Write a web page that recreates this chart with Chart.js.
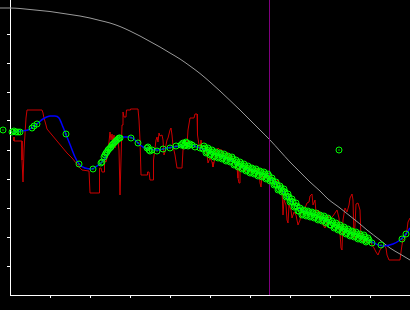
<!DOCTYPE html>
<html>
<head>
<meta charset="utf-8">
<script src="https://cdn.jsdelivr.net/npm/chart.js@4/dist/chart.umd.min.js"></script>
<style>
  html, body { margin: 0; padding: 0; background: #000; }
  #wrap { width: 410px; height: 310px; }
</style>
</head>
<body>
<div id="wrap"><canvas id="c"></canvas></div>
<script>
/* tick positions (no labels in the original) */
const X_TICKS = [50, 90, 130, 170, 210, 250, 290, 330, 370];
const Y_TICKS = [34, 63, 92, 121, 150, 179, 208, 237, 266];

/* vertical marker */
const MARKER_X = 269.5;

/* reference curve (grey) */
const GRAY = [[0,8],[10,8],[20,8.5],[30,9.5],[40,10.5],[50,11.5],[60,13],[70,14.5],[80,16],[90,18],
  [100,20.5],[110,23],[120,26.5],[130,31],[140,36],[150,41.5],[160,47],[170,53],[180,59],[190,66],
  [200,73.5],[210,82],[220,91],[229,99.5],[240,110],[250,120],[260,130],[270,140],[280,151],[290,162],
  [300,172],[310,182],[320,191],[328,199],[340,208],[350,216],[360,224],[367,230],[380,240],[390,248],
  [400,254],[410,260]];

/* raw signal (red) */
const RED = [[14,137],[14,141],[22,141],[22,160],[23,182],[24,150],[26,118],[27,110],[42,110],[43,113],
  [44,118],[46,125],[47,129],[52,135],[57,141],[62,147],[67,153],[72,158],[77,164],[80,168],[82,170],
  [89,171],[90,193],[99,193],[99.5,168],[101,168],[102,172],[104,172],[104.5,160],[106,162],[107,158],
  [108,148],[109,142],[110,132],[111,140],[112,134],[113,142],[114,135],[115,148],[116,138],[117,136],
  [118,140],[119,150],[120,195],[121,160],[122,125],[123,112],[124,117],[126,117],[126.5,110],[130,110],
  [130.5,109],[138,109],[139,120],[140,140],[141,175],[147,175],[147.5,172],[149,172],[150,180],[153,180],
  [153.5,160],[155,148],[156,140],[157,137],[158,142],[159,133],[160,136],[162,135],[163,140],[164,155],
  [165,152],[166,145],[167,140],[168,138],[170,130],[171,128],[172,135],[173,146],[175,155],[177,168],
  [182,168],[183,150],[184,145],[187,145],[188,130],[189,124],[190,118],[194,118],[195,114],[197,114],
  [197.5,135],[199,145],[200,150],[201,140],[202,148],[204,152],[205,148],[207,155],[208,163],[210,158],
  [212,162],[213,167],[215,158],[216,152],[218,148],[220,150],[222,150],[223,158],[225,155],[227,152],
  [229,158],[231,155],[233,160],[235,162],[237,168],[238,178],[239,183],[240,170],[241,165],[243,168],
  [245,172],[247,165],[249,168],[251,172],[253,170],[255,172],[257,168],[259,170],[260,183],[261,187],
  [262,176],[264,180],[266,175],[268,178],[270,175],[272,180],[274,178],[276,182],[278,180],[280,185],
  [282,190],[283,215],[284,200],[286,205],[287,220],[288,223],[289,205],[291,210],[292,218],[294,212],
  [296,215],[298,225],[300,220],[301,212],[303,210],[305,208],[307,203],[309,202],[310,196],[312,194],
  [313,205],[315,200],[316,213],[318,210],[320,212],[321,220],[323,225],[325,228],[327,222],[329,215],
  [331,218],[333,216],[335,213],[337,210],[339,218],[341,248],[342,250],[343,220],[345,208],[347,212],
  [349,205],[350,198],[352,194],[353,200],[354,238],[355,225],[356,204],[358,203],[360,210],[361,238],
  [363,242],[365,240],[367,243],[368,238],[370,240],[372,245],[374,248],[376,252],[378,255],[380,250],
  [382,247],[384,245],[386,248],[387,255],[389,260],[400,260],[401,252],[402,245],[403,240],[405,238],
  [407,230],[408,222],[410,218]];

/* smoothed fit (blue) */
const BLUE = [[13,132],[20,131],[28,130],[33,127],[38,123],[43,119],[50,116],[55,116],[59,118],[63,127],
  [67,137],[71,147],[75,157],[79,164],[85,168],[92,169],[97,166],[102,162],[107,155],[112,146],[116,140],
  [120,137],[125,137],[130,137],[134,139],[138,143],[143,147],[150,149],[158,150],[167,148],[180,146],
  [190,145],[200,148],[210,152],[220,156],[230,160],[245,168],[260,173],[270,178],[280,188],[290,200],
  [300,209],[315,215],[330,222],[345,230],[360,236],[372,242],[383,246],[393,244],[400,240],[406,234],
  [410,228]];

/* samples (green) */
const GREEN = [[3,130],[12,132],[14,131],[16,132],[18,132],[20,132],[32,128],[34,126],[37,124],[66,134],
  [79,164],[93,169],[101,163],[102,162],[105,155],[107,152],[108,150],[110,148],[111,147],[113,144],
  [115,142],[116,141],[118,139],[120,138],[131,138],[138,143],[147,148],[149,150],[152,150],[157,151],
  [163,149],[170,148],[176,146],[181,145],[183,143],[185,145],[187,143],[189,145],[192,145],[195,147],
  [200,148],[203,149],[205,148],[207,152],[209,150],[211,154],[213,152],[215,156],[217,153],[219,157],
  [221,154],[223,158],[225,156],[227,160],[229,157],[231,161],[233,159],[235,164],[237,162],[239,166],
  [241,164],[243,168],[245,166],[247,170],[249,168],[251,172],[253,169],[255,173],[257,171],[259,175],
  [261,172],[263,176],[265,174],[267,178],[269,176],[271,180],[273,181],[275,184],[277,185],[279,189],
  [281,188],[283,191],[285,192],[287,196],[289,197],[291,201],[293,202],[295,206],[297,206],[299,211],
  [301,210],[303,214],[305,211],[307,215],[309,212],[311,216],[313,213],[315,217],[317,215],[319,219],
  [321,216],[323,220],[325,218],[327,222],[329,220],[331,225],[333,223],[335,227],[337,225],[339,229],
  [339,150],[341,227],[343,231],[345,229],[347,233],[349,231],[351,235],[353,232],[355,236],[357,234],
  [359,238],[361,236],[363,239],[365,237],[367,241],[369,240],[372,243],[381,245],[402,239],[406,234]];

/* more samples where they crowd together */
const GREEN_DENSE = [[104,157],[106,153],[109,149],[112,145],[114,143],[117,140],[119,138],[148,147],
  [150,151],[182,144],[184,146],[186,142],[188,146],[190,144],
  [204,146],[206,153],[208,148],[210,155],[212,150],[214,157],[216,152],[218,158],[220,153],[222,159],
  [224,154],[226,161],[228,156],[230,162],[232,157],[234,165],[236,160],[238,167],[240,162],[242,169],
  [244,164],[246,171],[248,166],[250,173],[252,168],[254,174],[256,169],[258,176],[260,171],[262,177],
  [264,172],[266,179],[268,174],[270,181],[272,178],[274,185],[276,182],[278,190],[280,186],[282,192],
  [284,189],[286,197],[288,194],[290,202],[292,199],[294,207],[296,203],[298,211],[300,208],[302,215],
  [304,210],[306,216],[308,211],[310,217],[312,212],[314,218],[316,213],[318,220],[320,215],[322,221],
  [324,216],[326,223],[328,218],[330,225],[332,221],[334,228],[336,223],[338,230],[340,225],[342,232],
  [344,227],[346,234],[348,229],[350,236],[352,231],[354,237],[356,232],[358,239],[360,234],[362,240],
  [364,235],[366,242],[368,238]];

(function () {
  const toXY = (arr) => arr.map((p) => ({ x: p[0], y: p[1] }));
  const samples = toXY(GREEN.concat(GREEN_DENSE));

  // let the marks spill left of the y axis like in the original
  const widenArea = {
    id: "widenArea",
    beforeDatasetsDraw(chart) {
      chart.$left = chart.chartArea.left;
      chart.chartArea.left = 0;
    },
    afterDatasetsDraw(chart) {
      chart.chartArea.left = chart.$left;
    },
  };

  function axis(ticks, extra) {
    return Object.assign({
      type: "linear",
      afterBuildTicks: (s) => { s.ticks = ticks.map((v) => ({ value: v })); },
      ticks: { display: false },
      grid: { drawOnChartArea: false, drawTicks: true, tickLength: 3, color: "#ffffff", lineWidth: 1 },
      border: { display: true, color: "#ffffff", width: 1 },
    }, extra);
  }

  const ctx = document.getElementById("c").getContext("2d");
  new Chart(ctx, {
    type: "scatter",
    data: {
      datasets: [
        { data: samples, showLine: false, pointRadius: 3, pointBorderWidth: 1,
          pointBorderColor: "#00ff00", pointBackgroundColor: "rgba(0,0,0,0)", order: 0, clip: false },
        { data: samples, showLine: false, pointRadius: 0.7, pointBorderWidth: 0,
          pointBackgroundColor: "#00ff00", order: 1, clip: false },
        { data: toXY(BLUE), showLine: true, borderColor: "#0000ff", borderWidth: 1.5, pointRadius: 0,
          cubicInterpolationMode: "monotone", order: 2, clip: false },
        { data: [{ x: MARKER_X, y: 0 }, { x: MARKER_X, y: 295 }], showLine: true, borderColor: "#800080",
          borderWidth: 1, pointRadius: 0, order: 3, clip: false },
        { data: toXY(GRAY), showLine: true, borderColor: "#9a9a9a", borderWidth: 1, pointRadius: 0,
          cubicInterpolationMode: "monotone", order: 4, clip: false },
        { data: toXY(RED), showLine: true, borderColor: "#cc0000", borderWidth: 1, pointRadius: 0,
          tension: 0, order: 5, clip: false },
      ],
    },
    options: {
      animation: false,
      responsive: true,
      maintainAspectRatio: false,
      events: [],
      layout: { autoPadding: false, padding: { left: 7, top: 0, right: 0, bottom: 12 } },
      plugins: { legend: { display: false }, tooltip: { enabled: false } },
      scales: {
        x: axis(X_TICKS, { position: "bottom", min: 10, max: 410 }),
        y: axis(Y_TICKS, { position: "left", reverse: true, min: 0, max: 295 }),
      },
    },
    plugins: [widenArea],
  });
})();
</script>
</body>
</html>
